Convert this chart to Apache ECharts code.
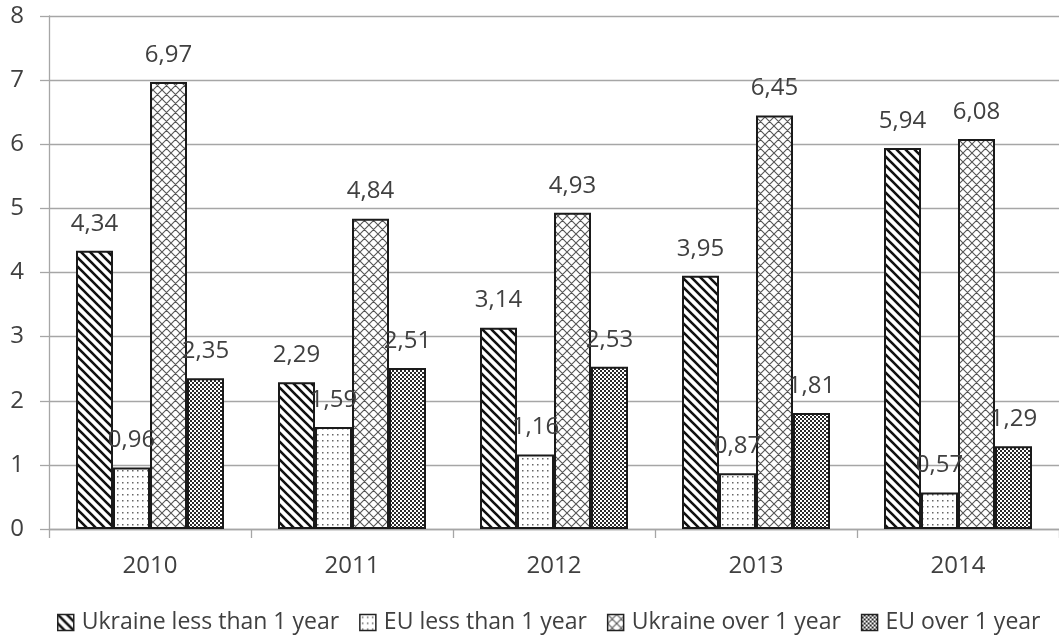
<!DOCTYPE html>
<html>
<head>
<meta charset="utf-8">
<script src="https://cdn.jsdelivr.net/npm/echarts@6/dist/echarts.min.js"></script>
<style>
  html, body { margin: 0; padding: 0; background: #fff; }
  #chart { width: 1059px; height: 636px; }
</style>
</head>
<body>
<div id="chart"></div>
<script>
// Years on the category axis
const years = ['2010', '2011', '2012', '2013', '2014'];

// Series values
const ukraineLess = [4.34, 2.29, 3.14, 3.95, 5.94];
const euLess = [0.96, 1.59, 1.16, 0.87, 0.57];
const ukraineOver = [6.97, 4.84, 4.93, 6.45, 6.08];
const euOver = [2.35, 2.51, 2.53, 1.81, 1.29];

// Series names
const seriesNames = [
  'Ukraine less than 1 year',
  'EU less than 1 year',
  'Ukraine over 1 year',
  'EU over 1 year'
];

const FONT = '"Open Sans", sans-serif';
const TEXT = '#404040';
const GRID = '#a6a6a6';

// --- fill patterns drawn on small tiles ---
function tile(w, h, draw) {
  const c = document.createElement('canvas');
  c.width = w; c.height = h;
  const ctx = c.getContext('2d');
  ctx.fillStyle = '#fff';
  ctx.fillRect(0, 0, w, h);
  draw(ctx, w, h);
  return { image: c, repeat: 'repeat' };
}

// thick back-slash stripes
const stripes = tile(9, 9, (ctx, w, h) => {
  ctx.strokeStyle = '#111';
  ctx.lineWidth = 2.6;
  ctx.beginPath();
  for (let k = -1; k <= 1; k++) {
    ctx.moveTo(k * w - 2, -2);
    ctx.lineTo(k * w + w + 2, h + 2);
  }
  ctx.stroke();
});

// sparse dots
const dots = tile(5, 6, (ctx) => {
  ctx.fillStyle = '#666';
  ctx.fillRect(2, 2, 1.5, 1.5);
});

// diagonal cross-hatch
const hatch = tile(9, 9, (ctx, w, h) => {
  ctx.strokeStyle = '#555';
  ctx.lineWidth = 1.1;
  ctx.beginPath();
  for (let k = -1; k <= 1; k++) {
    ctx.moveTo(k * w, 0);
    ctx.lineTo(k * w + w, h);
    ctx.moveTo(k * w + w, 0);
    ctx.lineTo(k * w, h);
  }
  ctx.stroke();
});

// small dense checkerboard
const checker = tile(4, 4, (ctx) => {
  ctx.fillStyle = '#2a2a2a';
  ctx.fillRect(0, 0, 4, 4);
  ctx.fillStyle = '#fff';
  ctx.fillRect(0, 0, 2, 2);
  ctx.fillRect(2, 2, 2, 2);
});

const fills = [stripes, dots, hatch, checker];
const values = [ukraineLess, euLess, ukraineOver, euOver];

const fmt = (v) => v.toFixed(2).replace('.', ',');

const chart = echarts.init(document.getElementById('chart'), null, { renderer: 'canvas' });

chart.setOption({
  animation: false,
  backgroundColor: '#fff',
  grid: { left: 49, top: 16, width: 1020, height: 513, containLabel: false },
  legend: {
    top: 606,
    left: 52,
    itemWidth: 16,
    itemHeight: 16,
    itemGap: 20,
    icon: 'rect',
    textStyle: { fontFamily: FONT, fontSize: 23, color: TEXT, padding: [0, 0, 0, 3] },
    itemStyle: { borderColor: '#222', borderWidth: 1.5 },
    data: seriesNames
  },
  xAxis: {
    type: 'category',
    data: years,
    axisLine: { show: true, lineStyle: { color: GRID, width: 1.3 } },
    axisTick: { show: true, length: 9, lineStyle: { color: GRID, width: 1.3 } },
    axisLabel: { margin: 25, fontFamily: FONT, fontSize: 24, color: TEXT }
  },
  yAxis: {
    type: 'value',
    min: 0,
    max: 8,
    interval: 1,
    axisLine: { show: true, lineStyle: { color: GRID, width: 1.3 } },
    axisTick: { show: true, length: 9, lineStyle: { color: GRID, width: 1.3 } },
    splitLine: { lineStyle: { color: GRID, width: 1.3 } },
    axisLabel: { margin: 25, fontFamily: FONT, fontSize: 24, color: TEXT }
  },
  series: seriesNames.map((name, i) => ({
    name: name,
    type: 'bar',
    data: values[i],
    barWidth: 37,
    barGap: '0%',
    itemStyle: { color: fills[i], borderColor: '#1a1a1a', borderWidth: 2 },
    label: {
      show: true,
      position: 'top',
      distance: 15,
      fontFamily: FONT,
      fontSize: 24,
      color: TEXT,
      formatter: (p) => fmt(p.value)
    }
  }))
});
</script>
</body>
</html>
